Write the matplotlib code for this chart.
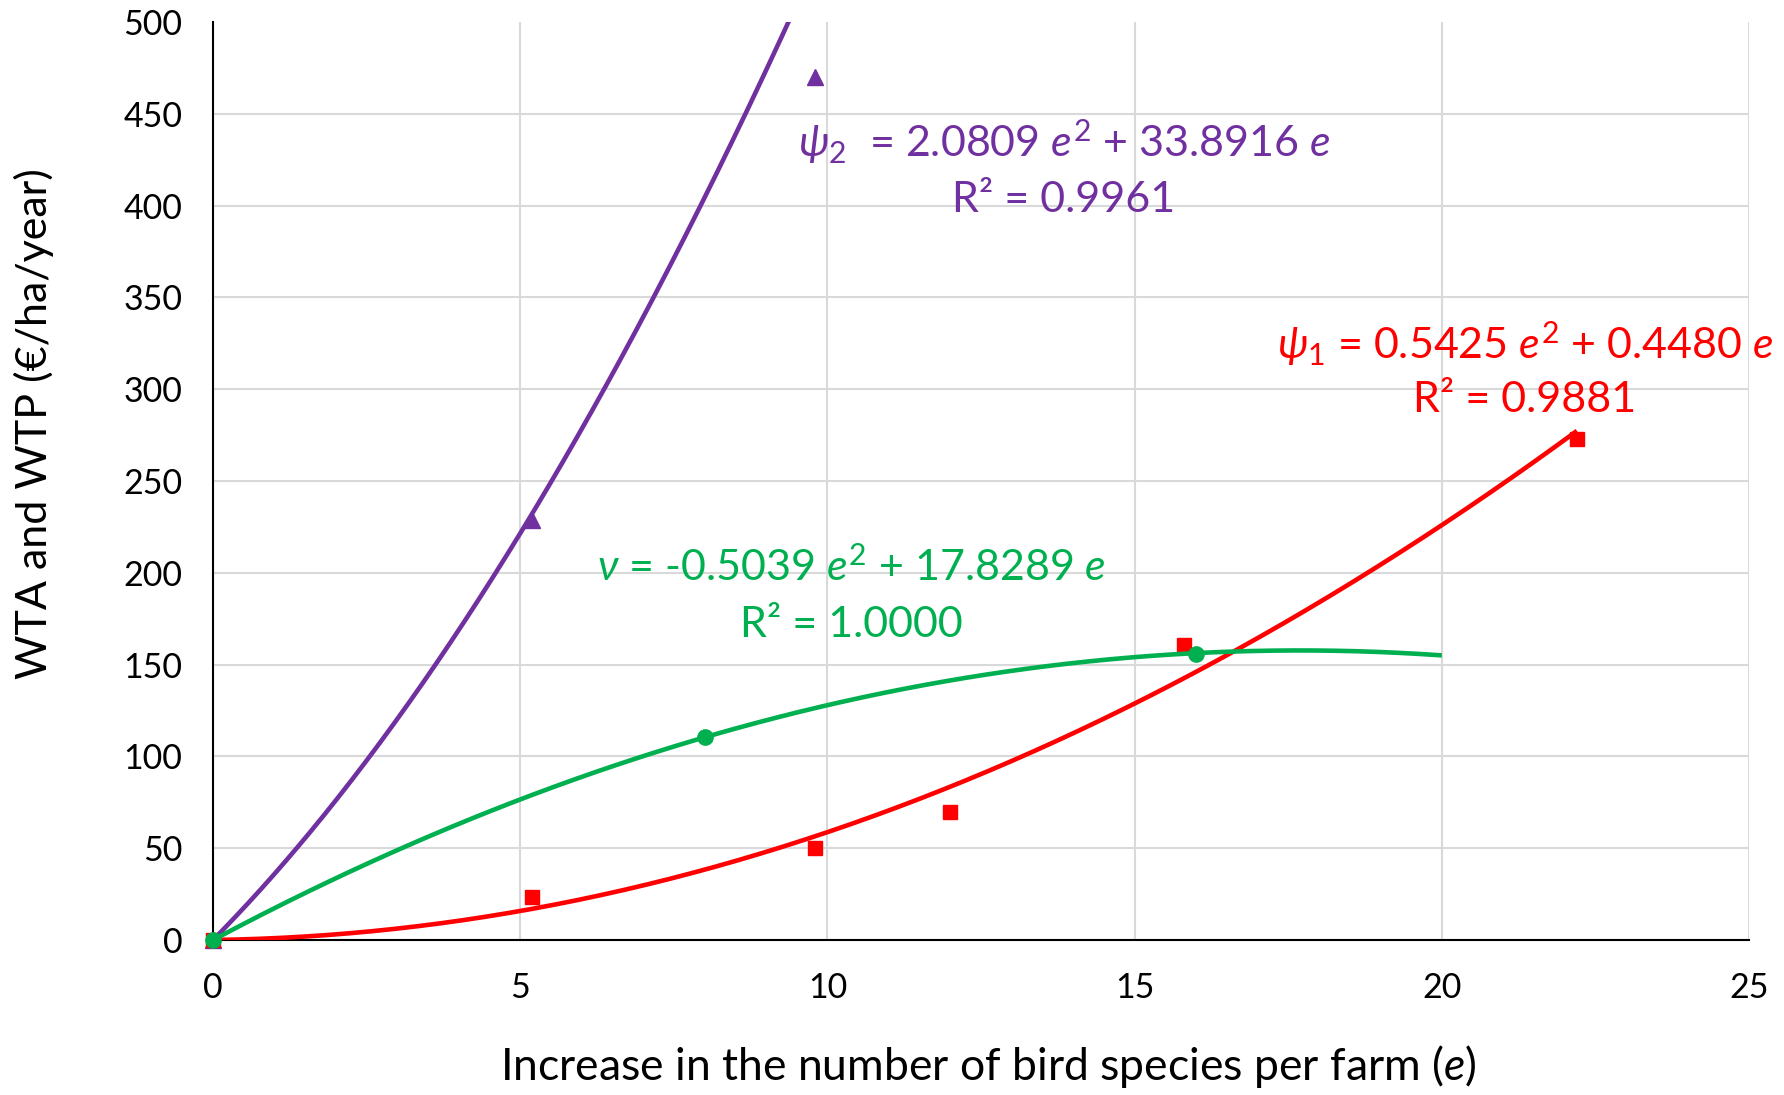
import numpy as np
import matplotlib
matplotlib.use("Agg")
import matplotlib.pyplot as plt

plt.rcParams['font.family'] = ['Lato', 'DejaVu Sans']
plt.rcParams['mathtext.fontset'] = 'custom'
plt.rcParams['mathtext.rm'] = 'Lato'
plt.rcParams['mathtext.it'] = 'Lato:italic'
plt.rcParams['mathtext.fallback'] = 'stix'

# ---- data ----
psi2_x = [0, 5.2, 9.8]
psi2_y = [0, 229, 470]
psi1_x = [0, 5.2, 9.8, 12.0, 15.8, 22.2]
psi1_y = [0, 23.5, 50, 69.5, 160.5, 273]
nu_x = [0, 8.0, 16.0]
nu_y = [0, 110.5, 156]

# trendline coefficients (a*e^2 + b*e) and plotted ranges
psi2_coef = [2.0809, 33.8916]
psi1_coef = [0.5425, 0.4480]
nu_coef = [-0.5039, 17.8289]
psi2_range = [0, 9.8]
psi1_range = [0, 22.2]
nu_range = [0, 20]

x_ticks = [0, 5, 10, 15, 20, 25]
y_ticks = [0, 50, 100, 150, 200, 250, 300, 350, 400, 450, 500]

PURPLE = '#7030A0'
RED = '#FF0000'
GREEN = '#00B050'

fig = plt.figure(figsize=(17.84, 10.95), dpi=100)
ax = fig.add_axes([213/1784, 155/1095, 1536/1784, 918/1095])

def trend(coef, rng):
    xs = np.linspace(rng[0], rng[1], 300)
    return xs, coef[0]*xs**2 + coef[1]*xs

lw = 3.3
x, y = trend(psi1_coef, psi1_range)
ax.plot(x, y, color=RED, lw=lw, zorder=3, solid_capstyle='butt')
x, y = trend(psi2_coef, psi2_range)
ax.plot(x, y, color=PURPLE, lw=lw, zorder=3, solid_capstyle='butt')
x, y = trend(nu_coef, nu_range)
ax.plot(x, y, color=GREEN, lw=lw, zorder=3, solid_capstyle='butt')

ax.plot(psi2_x, psi2_y, ls='none', marker='^', ms=12, color=PURPLE, zorder=2, clip_on=False)
ax.plot(psi1_x, psi1_y, ls='none', marker='s', ms=10, color=RED, zorder=2, clip_on=False)
ax.plot(nu_x, nu_y, ls='none', marker='o', ms=11, color=GREEN, zorder=4, clip_on=False)

ax.set_xlim(0, 25)
ax.set_ylim(0, 500)
ax.set_xticks(x_ticks)
ax.set_yticks(y_ticks)
ax.tick_params(length=0, labelsize=24.5)
ax.tick_params(axis='x', pad=23)
ax.tick_params(axis='y', pad=22)

ax.grid(True, color='#d9d9d9', lw=1.5, zorder=0)
ax.set_axisbelow(True)
ax.get_ygridlines()[-1].set_visible(False)
for s in ['top', 'right']:
    ax.spines[s].set_visible(False)
for s in ['left', 'bottom']:
    ax.spines[s].set_color('black')
    ax.spines[s].set_linewidth(1.5)
    ax.spines[s].set_zorder(1)

ax.set_xlabel(r'Increase in the number of bird species per farm ($e$)', fontsize=32)
ax.xaxis.set_label_coords(0.505, -0.138)
ax.xaxis.label.set_va('center')
ax.set_ylabel('WTA and WTP (€/ha/year)', fontsize=31)
ax.yaxis.set_label_coords(-0.1165, 0.563)
ax.yaxis.label.set_va('center')

def px(xp, yp):
    return ((xp - 213) / 1536, (940 - yp) / 918)

fs_eq = 31
ax.text(*px(1064, 142), r'$\psi_2$  = 2.0809 $e^2$ + 33.8916 $e$', transform=ax.transAxes,
        ha='center', va='center', fontsize=fs_eq, color=PURPLE)
ax.text(*px(1064, 200), 'R² = 0.9961', transform=ax.transAxes,
        ha='center', va='center', fontsize=fs_eq, color=PURPLE)
ax.text(*px(1525, 344), r'$\psi_1$ = 0.5425 $e^2$ + 0.4480 $e$', transform=ax.transAxes,
        ha='center', va='center', fontsize=fs_eq, color=RED)
ax.text(*px(1525, 400), 'R² = 0.9881', transform=ax.transAxes,
        ha='center', va='center', fontsize=fs_eq, color=RED)
ax.text(*px(851, 567), r'$\nu$ = -0.5039 $e^2$ + 17.8289 $e$', transform=ax.transAxes,
        ha='center', va='center', fontsize=fs_eq, color=GREEN)
ax.text(*px(851, 625), 'R² = 1.0000', transform=ax.transAxes,
        ha='center', va='center', fontsize=fs_eq, color=GREEN)

fig.savefig('out.png', dpi=100)
